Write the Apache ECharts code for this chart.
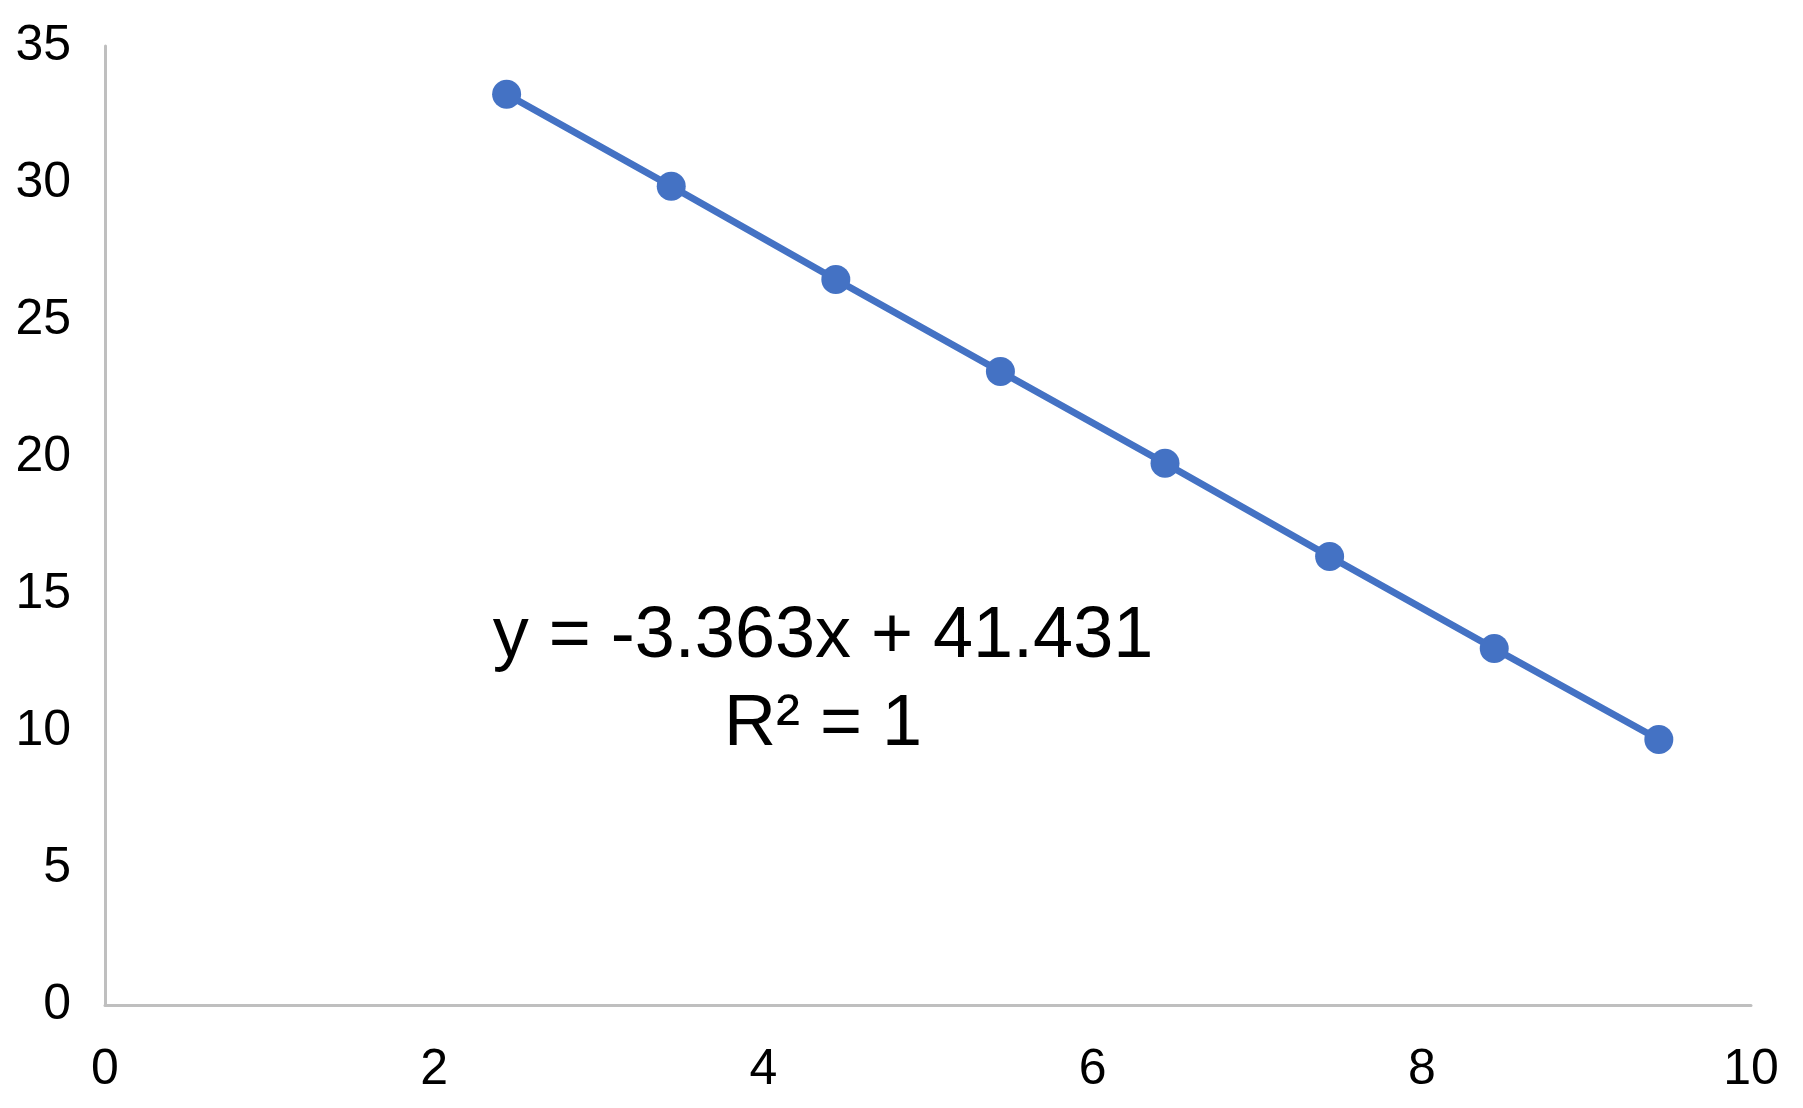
<!DOCTYPE html>
<html>
<head>
<meta charset="utf-8">
<script src="https://cdn.jsdelivr.net/npm/echarts@6/dist/echarts.min.js"></script>
<style>
  html, body { margin: 0; padding: 0; background: #fff; }
  #main { width: 1803px; height: 1108px; }
</style>
</head>
<body>
<div id="main"></div>
<script>
// data
var xValues = [2.44, 3.44, 4.44, 5.44, 6.44, 7.44, 8.44, 9.44];
var yValues = [33.24, 29.88, 26.48, 23.12, 19.77, 16.37, 13.01, 9.69];
var equationText = 'y = -3.363x + 41.431';
var r2Text = 'R\u00B2 = 1';

var points = xValues.map(function (x, i) { return [x, yValues[i]]; });

var chart = echarts.init(document.getElementById('main'));
var font = '"Liberation Sans", Arial, sans-serif';

var option = {
  animation: false,
  backgroundColor: '#ffffff',
  grid: { left: 105, right: 52, top: 46, bottom: 103 },
  xAxis: {
    type: 'value',
    min: 0, max: 10, interval: 2,
    axisLine: { show: true, onZero: false, lineStyle: { color: '#bfbfbf', width: 3 } },
    axisTick: { show: false },
    splitLine: { show: false },
    axisLabel: { color: '#000', fontSize: 50, fontFamily: font, margin: 40 }
  },
  yAxis: {
    type: 'value',
    min: 0, max: 35, interval: 5,
    axisLine: { show: true, onZero: false, lineStyle: { color: '#bfbfbf', width: 3 } },
    axisTick: { show: false },
    splitLine: { show: false },
    axisLabel: { color: '#000', fontSize: 50, fontFamily: font, margin: 34 }
  },
  series: [{
    type: 'line',
    data: points,
    symbol: 'circle',
    symbolSize: 29,
    lineStyle: { color: '#4472c4', width: 7 },
    itemStyle: { color: '#4472c4' }
  }],
  graphic: [{
    type: 'text',
    x: 823, y: 681,
    style: {
      text: equationText + '\n' + r2Text,
      fill: '#000',
      font: '72px ' + font,
      textAlign: 'center',
      textVerticalAlign: 'middle',
      lineHeight: 88
    }
  }]
};

chart.setOption(option);
</script>
</body>
</html>
